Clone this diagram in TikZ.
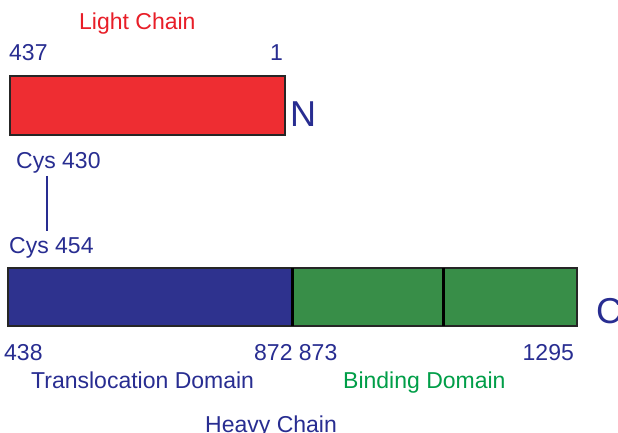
\documentclass[tikz,border=0pt]{standalone}
\usepackage{fontspec}
\setmainfont{Liberation Sans}
\definecolor{txtblue}{RGB}{40,45,145}
\definecolor{txtred}{RGB}{232,30,40}
\definecolor{txtgreen}{RGB}{0,158,72}
\definecolor{barred}{RGB}{238,45,50}
\definecolor{barblue}{RGB}{46,50,142}
\definecolor{bargreen}{RGB}{56,142,72}
\begin{document}
\begin{tikzpicture}[x=1pt,y=-1pt,
  lbl/.style={inner sep=0pt,anchor=base west,font=\fontsize{23}{26}\selectfont,text=txtblue},
  endlbl/.style={inner sep=0pt,anchor=base west,font=\fontsize{36}{40}\selectfont,text=txtblue},
  bar/.style={draw=black!85,line width=1.4pt},
  divider/.style={draw=black,line width=3pt}]
\useasboundingbox (0,0) rectangle (618,433);
\fill[white] (0,0) rectangle (618,433);

% light chain
\node[lbl,text=txtred] (lc) at (79,30) {Light Chain};
\node[lbl] (l437) at (9,61) {437};
\node[lbl] (l1) at (270,61) {1};
\path[bar,fill=barred] (10,76) rectangle (285,135);
\node[endlbl] (nterm) at (290,127) {N};

% disulfide bridge
\node[lbl] (c430) at (16,168) {Cys 430};
\node[lbl] (c454) at (9,253) {Cys 454};
\coordinate (bx) at (47,0);
\draw[txtblue,line width=2.6pt,shorten <=3pt,shorten >=6pt]
  (c430.south -| bx) -- (c454.north -| bx);

% heavy chain
\fill[barblue] (8,268) rectangle (292,326);
\fill[bargreen] (292,268) rectangle (577,326);
\path[bar] (8,268) rectangle (577,326);
\draw[divider] (292,268) -- (292,326);
\draw[divider] (443,268) -- (443,326);
\node[endlbl] (cterm) at (596,323) {C};

\node[lbl] (h438) at (4,360) {438};
\node[lbl] (h872) at (254,360) {872 873};
\node[lbl] (h1295) at (522.5,360) {1295};
\node[lbl] (tdom) at (31,388) {Translocation Domain};
\node[lbl,text=txtgreen] (bdom) at (343,388) {Binding Domain};
\node[lbl] (hc) at (205,432) {Heavy Chain};
\end{tikzpicture}
\end{document}
